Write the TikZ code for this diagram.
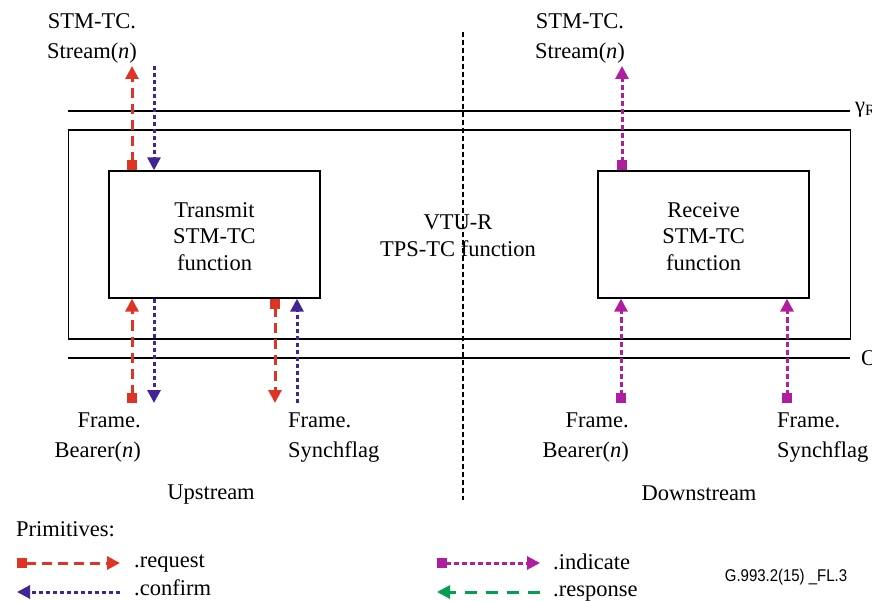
\documentclass[tikz,border=0pt]{standalone}
\usepackage{fontspec}
\setmainfont{Liberation Serif}
\setsansfont{Liberation Sans}
\usetikzlibrary{arrows.meta}
\definecolor{creq}{RGB}{222,52,36}
\definecolor{cconf}{RGB}{66,36,150}
\definecolor{cind}{RGB}{176,30,160}
\definecolor{cresp}{RGB}{0,160,80}
\tikzset{
  box/.style={draw, line width=1.3pt, inner sep=0pt},
  tipT/.tip={Triangle[length=13pt,width=13pt]},
  tipS/.tip={Square[length=10pt,width=10pt]},
  req/.style={creq, line width=3pt, dash pattern=on 10pt off 6pt, tipS-tipT},
  conf/.style={cconf, line width=3pt, dash pattern=on 4pt off 3pt, -tipT},
  ind/.style={cind, line width=3pt, dash pattern=on 5pt off 3pt, tipS-tipT},
  resp/.style={cresp, line width=3pt, dash pattern=on 12pt off 9pt, -tipT},
  thin/.style={line width=1.3pt},
  lbl/.style={inner sep=0pt, align=center},
  boxtxt/.style={lbl, font=\fontsize{22.5}{26.5}\selectfont}
}
\begin{document}
\begin{tikzpicture}[x=1pt,y=-1pt,font=\fontsize{22.5}{30}\selectfont]
\useasboundingbox (0,0) rectangle (872,601);
\clip (0,0) rectangle (872,601);

% boxes
\node[box, minimum width=782pt, minimum height=209pt] (outer) at (459.5,234.5) {};
\node[box, minimum width=211pt, minimum height=127pt] (tx) at (214.5,234.5) {};
\node[box, minimum width=211pt, minimum height=127pt] (rx) at (703.5,234.5) {};
\node[boxtxt] (txt) at (214.5,236.5) {Transmit\\STM-TC\\function};
\node[boxtxt] (rxt) at (703.5,236.5) {Receive\\STM-TC\\function};

% reference lines
\coordinate (gL) at (68,111);
\coordinate (gR) at (850,111);
\draw[thin] (gL) -- (gR);
\node[anchor=west, inner sep=0pt] (gam) at (855,110) {γ\textsubscript{R}};
\coordinate (oL) at (68,358);
\coordinate (oR) at (850,358);
\draw[thin] (oL) -- (oR);
\node[anchor=west, inner sep=0pt] (olab) at (861,358) {O};

% centre divider
\coordinate (dT) at (463,32);
\coordinate (dB) at (463,500);
\draw[line width=1.3pt, dash pattern=on 5pt off 3pt] (dT) -- (dB);

\node[lbl, font=\fontsize{22.5}{27}\selectfont] (vtu) at (458,236) {VTU-R\\TPS-TC function};

% top arrows
\coordinate (a1) at (132,66);
\coordinate (a2) at (154,66);
\coordinate (c1) at (622,66);
\draw[req] (tx.north -| a1) -- (a1);
\draw[conf] (a2) -- (tx.north -| a2);
\draw[ind] (rx.north -| c1) -- (c1);

% bottom arrows
\coordinate (b1) at (132,403);
\coordinate (b2) at (154,403);
\coordinate (b3) at (275,403);
\coordinate (b4) at (297,403);
\coordinate (c2) at (621,403);
\coordinate (c3) at (787,403);
\draw[req] (b1) -- (tx.south -| b1);
\draw[conf] (tx.south -| b2) -- (b2);
\draw[req] (tx.south -| b3) -- (b3);
\draw[conf] (b4) -- (tx.south -| b4);
\draw[ind] (c2) -- (rx.south -| c2);
\draw[ind] (c3) -- (rx.south -| c3);

% labels
\node[lbl] (st1) at (92,38) {STM-TC.\\Stream(\textit{n})};
\node[lbl] (st2) at (580,38) {STM-TC.\\Stream(\textit{n})};
\node[lbl, align=right, anchor=east] (fb1) at (141,438) {Frame.\\Bearer(\textit{n})};
\node[lbl, align=left, anchor=west] (fs1) at (288,438) {Frame.\\Synchflag};
\node[lbl, align=right, anchor=east] (fb2) at (629,438) {Frame.\\Bearer(\textit{n})};
\node[lbl, align=left, anchor=west] (fs2) at (777,438) {Frame.\\Synchflag};
\node[lbl] (up) at (211,495) {Upstream};
\node[lbl] (down) at (699,493) {Downstream};

% legend
\node[lbl, anchor=west] (prim) at (16,529) {Primitives:};
\coordinate (l1s) at (17,563);
\coordinate (l1e) at (120,563);
\coordinate (l2s) at (120,592);
\coordinate (l2e) at (17,592);
\coordinate (l3s) at (437,563);
\coordinate (l3e) at (540,563);
\coordinate (l4s) at (540,592);
\coordinate (l4e) at (437,592);
\draw[req] (l1s) -- (l1e);
\draw[conf] (l2s) -- (l2e);
\draw[ind] (l3s) -- (l3e);
\draw[resp] (l4s) -- (l4e);
\node[lbl, anchor=base west] (treq) at (134,567) {.request};
\node[lbl, anchor=base west] (tconf) at (134,595) {.confirm};
\node[lbl, anchor=base west] (tind) at (553,569) {.indicate};
\node[lbl, anchor=base west] (tresp) at (553,596) {.response};

\node[lbl, font=\sffamily\fontsize{17}{19}\selectfont] (code) at (786,577)
  {\scalebox{0.88}[1]{G.993.2(15) \_FL.3}};
\end{tikzpicture}
\end{document}
